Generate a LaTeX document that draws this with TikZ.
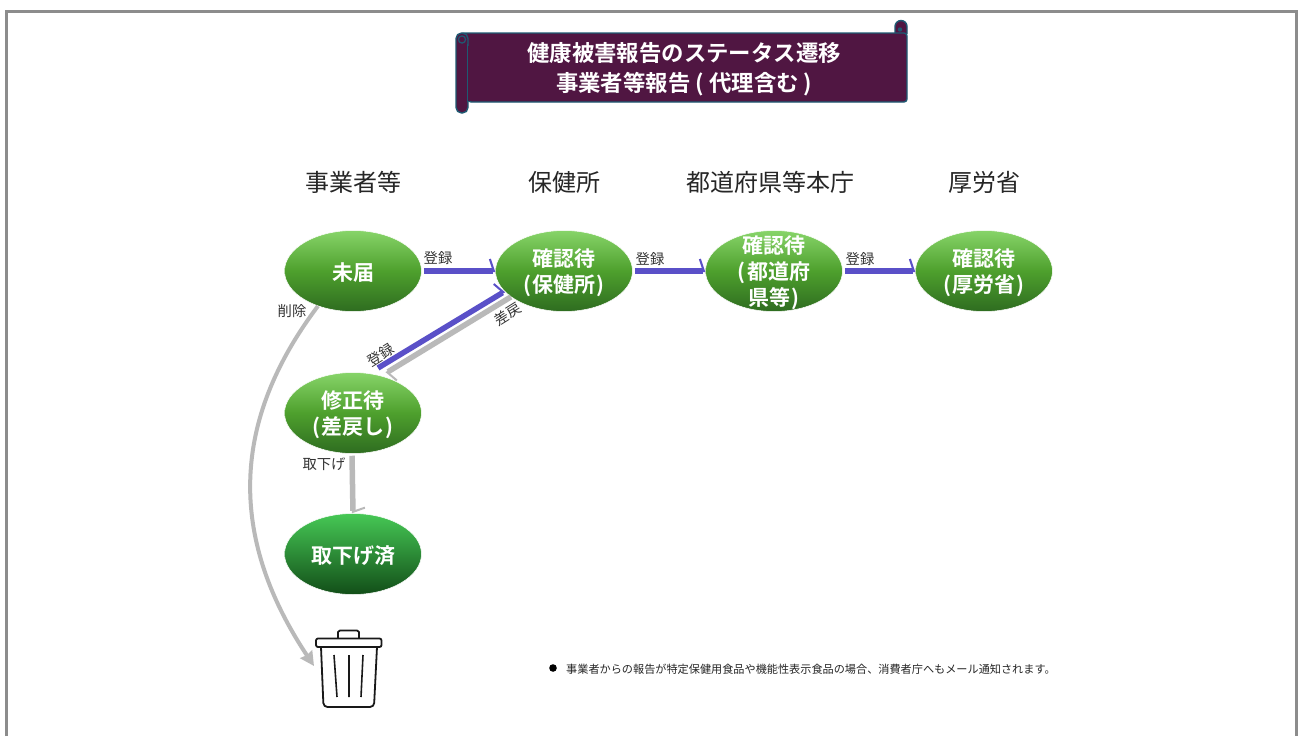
\documentclass[tikz,border=0pt]{standalone}
\usepackage{fontspec}
\usetikzlibrary{arrows.meta,shapes.geometric}
\setmainfont{Noto Sans CJK JP}
\newfontfamily\jpreg{Noto Sans CJK JP}
\newfontfamily\jpbold{Noto Sans CJK JP Bold}
\definecolor{titlefill}{RGB}{80,22,66}
\definecolor{titleline}{RGB}{30,90,115}
\definecolor{flowblue}{RGB}{90,80,200}
\definecolor{flowgray}{RGB}{185,185,185}
\definecolor{framegray}{RGB}{140,140,140}
\definecolor{stateTop}{RGB}{135,212,105}
\definecolor{stateMid}{RGB}{78,160,45}
\definecolor{stateBot}{RGB}{46,108,32}
\definecolor{doneTop}{RGB}{70,200,85}
\definecolor{doneMid}{RGB}{35,125,40}
\definecolor{doneBot}{RGB}{18,78,24}
\newcommand{\lpar}{\hspace{5pt}(\hspace{5.5pt}}
\newcommand{\rpar}{\hspace{4.5pt})\hspace{4pt}}
\newcommand{\lparS}{(\hspace{1.5pt}}
\newcommand{\rparS}{\hspace{1.5pt})}
\tikzset{
  state/.style={ellipse,minimum width=137pt,minimum height=81pt,inner sep=0pt,draw=white,line width=.5pt,
    top color=stateTop,bottom color=stateBot,middle color=stateMid},
  stateText/.style={font=\jpbold\fontsize{21}{26}\selectfont,text=white,align=center,inner sep=0pt,yshift=-1.5pt},
  head/.style={font=\jpreg\fontsize{24}{28}\selectfont,text=black!85,inner sep=0pt},
  edgeText/.style={font=\jpreg\fontsize{14.3}{16}\selectfont,text=black!80,inner sep=0pt},
  blueFlow/.style={draw=flowblue,line width=5.5pt,-{Straight Barb[left,length=4pt,width=24pt,line width=2pt]}},
  grayFlow/.style={draw=flowgray,line width=5.5pt,-{Straight Barb[left,length=4pt,width=24pt,line width=2pt]}},
  bin/.style={draw=black!90,line width=1.8pt,line join=round,rounded corners=2pt},
  roll/.style={fill=titlefill,draw=titleline,line width=1.4pt,rounded corners=5.5pt}
}
\begin{document}
\begin{tikzpicture}[x=1pt,y=-1pt]
\useasboundingbox (0,0) rectangle (1298,736);
\fill[white] (0,0) rectangle (1298,736);
\draw[framegray,line width=3pt] (6,736) -- (6,11) -- (1296,11) -- (1296,736);
% title scroll
\draw[titleline,fill=titlefill,line width=1.4pt] (895,34) -- (895,26.5) arc[start angle=180,end angle=0,radius=6pt] -- (907,34);
\draw[fill=titlefill,draw=titleline,line width=1.4pt,rounded corners=3pt] (461,33) -- (907,33) -- (907,102) -- (468,102) -- (468,50) -- (461,50) -- cycle;
\draw[roll] (456,33) rectangle (468,113);
\fill[titlefill] (467,46) rectangle (472,101.2);
\draw[titleline,line width=1.2pt] (467.5,44) -- (467.5,102);
\draw[titleline,line width=1.2pt] (462,39.5) circle[radius=3.6pt];
\fill[titleline] (900,29.5) circle[radius=2.2pt];
\node[font=\jpbold\fontsize{22.4}{30}\selectfont,text=white,align=center,inner sep=0pt] (title) at (684,69) {健康被害報告のステータス遷移\\事業者等報告\lpar 代理含む\rpar};
% headers
\node[head] (h1) at (353,182) {事業者等};
\node[head] (h2) at (564,182) {保健所};
\node[head] (h3) at (770,182) {都道府県等本庁};
\node[head] (h4) at (984,182) {厚労省};
% states
\node[state,label={[stateText]center:未届}] (a) at (353,271) {};
\node[state,label={[stateText]center:{確認待\\\lparS 保健所\rparS}}] (c) at (564,271) {};
\node[state,label={[stateText]center:{確認待\\\lparS 都道府\\県等\rparS}}] (d) at (774,271) {};
\node[state,label={[stateText]center:{確認待\\\lparS 厚労省\rparS}}] (e) at (984,271) {};
\node[state,label={[stateText]center:{修正待\\\lparS 差戻し\rparS}}] (m) at (353,413) {};
\node[state,top color=doneTop,middle color=doneMid,bottom color=doneBot,label={[stateText]center:取下げ済}] (t) at (353,554) {};
% free ends
\coordinate (blueFree) at (378,368);
\coordinate (grayFree) at (386,373);
\coordinate (binTip) at (314,666);
% connectors
\draw[blueFlow] (a.east) ++(2,0) -- (c.west);
\draw[blueFlow] (c.east) ++(2,0) -- (d.west);
\draw[blueFlow] (d.east) ++(2,0) -- (e.west);
\draw[blueFlow] (blueFree) -- (c.199);
\draw[grayFlow] (c.206) -- (grayFree);
\draw[grayFlow] (m.south) ++(-1,2) -- (t.north);
\draw[flowgray,line width=4pt,-{Stealth[length=14pt,width=14pt,inset=1pt]}] (a.225) .. controls (232,420) and (227,535) .. (binTip);
% connector labels
\node[edgeText] (l1) at (438,258) {登録};
\node[edgeText] (l2) at (650,259) {登録};
\node[edgeText] (l3) at (860,259) {登録};
\node[edgeText] (l4) at (292,311) {削除};
\node[edgeText,rotate=32] (l5) at (381,355) {登録};
\node[edgeText,rotate=32] (l6) at (508,314) {差戻};
\node[edgeText] (l7) at (324,464) {取下げ};
% trash can
\draw[bin] (338,638) -- (338,634) to[out=90,in=180] (342,630.5) -- (355,630.5) to[out=0,in=90] (359,634) -- (359,638);
\draw[bin] (316,638.5) rectangle (381.5,647);
\draw[bin,rounded corners=4pt] (321,647) -- (323.5,707) -- (374,707) -- (377,647);
\draw[black!90,line width=1.6pt] (334,655) -- (337,697) (349,655) -- (349,697) (363,655) -- (361,697);
% note
\fill[black] (553,668) circle[radius=3.8pt];
\node[font=\jpreg\fontsize{11.15}{13}\selectfont,text=black!85,inner sep=0pt,anchor=west] (note) at (566,669) {事業者からの報告が特定保健用食品や機能性表示食品の場合、消費者庁へもメール通知されます。};
\end{tikzpicture}
\end{document}
